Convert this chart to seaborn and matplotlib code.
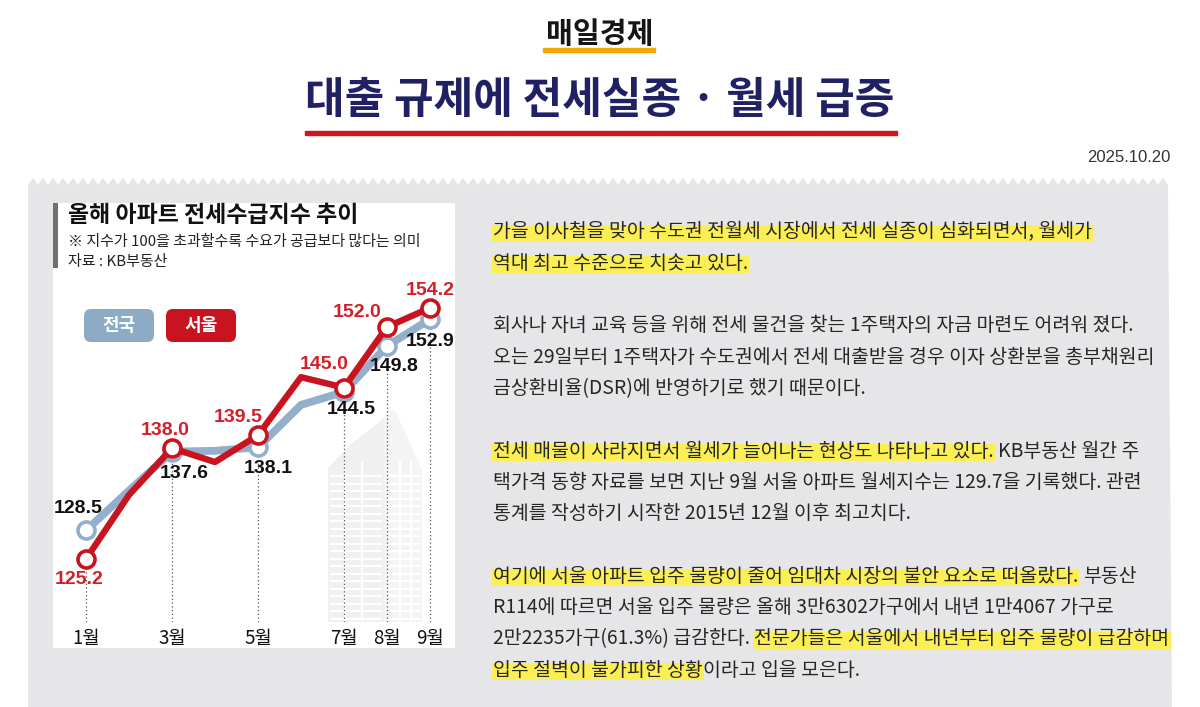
import numpy as np
import pandas as pd
import matplotlib
matplotlib.use('Agg')
import matplotlib.pyplot as plt
import seaborn as sns
from matplotlib.patches import Polygon, Rectangle, FancyBboxPatch

# ---------------- data ----------------
months = [1, 2, 3, 4, 5, 6, 7, 8, 9]
labeled_months = [1, 3, 5, 7, 8, 9]
month_labels = ['1월', '3월', '5월', '7월', '8월', '9월']
national = [128.5, 133.1, 137.6, 137.7, 138.1, 143.0, 144.5, 149.8, 152.9]
seoul = [125.2, 132.6, 138.0, 136.4, 139.5, 146.2, 145.0, 152.0, 154.2]
series_names = ['전국', '서울']

header_logo = '매일경제'
main_title = '대출 규제에 전세실종 · 월세 급증'
date_text = '2025.10.20'
chart_title = '올해 아파트 전세수급지수 추이'
chart_note = '※ 지수가 100을 초과할수록 수요가 공급보다 많다는 의미'
chart_source = '자료 : KB부동산'

body_lines = [
    [('가을 이사철을 맞아 수도권 전월세 시장에서 전세 실종이 심화되면서, 월세가', True)],
    [('역대 최고 수준으로 치솟고 있다.', True)],
    [],
    [('회사나 자녀 교육 등을 위해 전세 물건을 찾는 1주택자의 자금 마련도 어려워 졌다.', False)],
    [('오는 29일부터 1주택자가 수도권에서 전세 대출받을 경우 이자 상환분을 총부채원리', False)],
    [('금상환비율(DSR)에 반영하기로 했기 때문이다.', False)],
    [],
    [('전세 매물이 사라지면서 월세가 늘어나는 현상도 나타나고 있다.', True), (' KB부동산 월간 주', False)],
    [('택가격 동향 자료를 보면 지난 9월 서울 아파트 월세지수는 129.7을 기록했다. 관련', False)],
    [('통계를 작성하기 시작한 2015년 12월 이후 최고치다.', False)],
    [],
    [('여기에 서울 아파트 입주 물량이 줄어 임대차 시장의 불안 요소로 떠올랐다.', True), (' 부동산', False)],
    [('R114에 따르면 서울 입주 물량은 올해 3만6302가구에서 내년 1만4067 가구로', False)],
    [('2만2235가구(61.3%) 급감한다. ', False), ('전문가들은 서울에서 내년부터 입주 물량이 급감하며', True)],
    [('입주 절벽이 불가피한 상황', True), ('이라고 입을 모은다.', False)],
]

# ---------------- style ----------------
sns.set_theme(style='white')
plt.rcParams['font.family'] = ['Noto Sans CJK KR', 'DejaVu Sans']

NAVY = '#1f2163'
RED = '#c8141e'
RED_TXT = '#d41f27'
BLUE = '#93afcb'
BLUE_PILL = '#8eabc6'
PANEL = '#e6e6e8'
HL = '#fcef55'

W, H = 1200, 707
fig = plt.figure(figsize=(W / 100, H / 100), dpi=100)
fig.patch.set_facecolor('white')
bg = fig.add_axes([0, 0, 1, 1])
bg.set_xlim(0, W)
bg.set_ylim(H, 0)
bg.axis('off')
renderer = fig.canvas.get_renderer()

# header
bg.text(600, 34, header_logo, fontsize=21, weight='heavy', color='#151515',
        ha='center', va='center')
bg.add_patch(Rectangle((543, 48), 112, 4, color='#f2a800'))
bg.text(600, 100, main_title, fontsize=31, weight='heavy', color=NAVY,
        ha='center', va='center')
bg.add_patch(Rectangle((305, 131), 592, 4, color='#d3161d'))
bg.text(1170, 157, date_text, fontsize=12, color='#333333', ha='right', va='center',
        family=['Liberation Sans Narrow', 'Liberation Sans', 'DejaVu Sans'])

# grey panel with zigzag top
pts = []
xs = np.arange(28, 1173, 5)
for i, x in enumerate(xs):
    pts.append((x, 185 if i % 2 == 0 else 178))
pts += [(1172, H), (28, H)]
bg.add_patch(Polygon(pts, closed=True, color=PANEL, lw=0))

# white chart box
bg.add_patch(Rectangle((53, 203), 402, 445, color='white', lw=0))
bg.add_patch(Rectangle((53, 203), 5, 65, color='#707070', lw=0))
bg.text(68, 215, chart_title, fontsize=16.5, weight='bold', color='#111111', va='center')
bg.text(68, 242, chart_note, fontsize=10.8, color='#222222', va='center')
bg.text(68, 262, chart_source, fontsize=10.8, color='#222222', va='center')

# faint building illustration
bcol = '#f0f0f0'
bg.add_patch(Polygon([(328, 468), (350, 445), (384, 418), (384, 622), (328, 622)],
                     closed=True, color=bcol, lw=0, zorder=1))
bg.add_patch(Polygon([(384, 418), (388, 408), (396, 412), (422, 470), (422, 622), (384, 622)],
                     closed=True, color='#f4f4f4', lw=0, zorder=1))
for yy in np.arange(476, 620, 7.5):
    bg.plot([331, 381], [yy, yy], color='white', lw=1.6, zorder=1.5)
    bg.plot([388, 419], [yy, yy], color='white', lw=1.6, zorder=1.5)
for xx in [345, 362, 400, 411]:
    bg.plot([xx, xx], [462, 620], color='white', lw=1.6, zorder=1.5)

# legend pills
for (name, col, x0) in [(series_names[0], BLUE_PILL, 84), (series_names[1], RED, 166)]:
    bg.add_patch(FancyBboxPatch((x0, 309), 70, 33,
                                boxstyle='round,pad=0,rounding_size=7',
                                color=col, lw=0, zorder=3))
    bg.text(x0 + 35, 325.5, name, fontsize=13, weight='bold', color='white',
            ha='center', va='center', zorder=4)

# ---------------- body text ----------------
def text_width(s, fs):
    t = bg.text(0, 0, s + '|', fontsize=fs)
    w1 = t.get_window_extent(renderer=renderer).width
    t.remove()
    t = bg.text(0, 0, '|', fontsize=fs)
    w0 = t.get_window_extent(renderer=renderer).width
    t.remove()
    return w1 - w0

fs = 13.5
widest = max(text_width(''.join(s for s, _ in segs), fs) for segs in body_lines if segs)
fs = fs * 676.0 / widest

y0, dy = 232, 31.3
x0 = 493
for i, segs in enumerate(body_lines):
    y = y0 + i * dy
    prefix = ''
    for txt, hl in segs:
        stripped = txt.lstrip(' ')
        lead = len(txt) - len(stripped)
        xt = x0 + text_width(prefix + txt[:lead], fs)
        bg.text(xt, y, stripped, fontsize=fs, color='#262626', va='center', ha='left', zorder=5)
        if hl:
            w = text_width(stripped.rstrip(' '), fs)
            bg.add_patch(Rectangle((xt - 1, y - 7), w + 2, 17, color=HL, lw=0, zorder=4))
        prefix += txt

# ---------------- chart ----------------
df = pd.DataFrame({
    '월': months * 2,
    '지수': national + seoul,
    '지역': [series_names[0]] * len(months) + [series_names[1]] * len(months),
})

ax = fig.add_axes([58 / W, (H - 622) / H, (455 - 58) / W, (622 - 280) / H])
ax.set_facecolor('none')
ax.set_xlim(0.35, 9.58)
ax.set_ylim(117.93, 157.42)

palette = {series_names[0]: BLUE, series_names[1]: RED}
widths = {series_names[0]: 5.6, series_names[1]: 4.6}

# dotted guide lines
low = [min(n, s) for n, s in zip(national, seoul)]
guide_tops = [low[months.index(m)] for m in labeled_months]
ax.vlines(labeled_months, ax.get_ylim()[0], guide_tops, colors='#555555',
          linestyles=(0, (1, 2)), lw=0.9, zorder=1)

z = 2
for name in series_names:
    sub = df[df['지역'] == name]
    sns.lineplot(data=sub, x='월', y='지수', color=palette[name], linewidth=widths[name],
                 ax=ax, legend=False, zorder=z, solid_joinstyle='round',
                 solid_capstyle='round')
    mk = sub[sub['월'].isin(labeled_months)]
    sns.scatterplot(data=mk, x='월', y='지수', s=150, color='white',
                    edgecolor=palette[name], linewidth=2.6, ax=ax, legend=False,
                    zorder=z + 1)
    z += 2

num_font = ['Liberation Sans', 'DejaVu Sans']
off_nat = [(-8, 22), (12, -22), (10, -21), (7, -18), (7, -21), (0, -22)]
off_seo = [(-7, -20), (-7, 18), (-20, 18), (-20, 23), (-30, 14), (0, 17)]
for m, (dxn, dyn), (dxs, dys) in zip(labeled_months, off_nat, off_seo):
    vi = months.index(m)
    ax.annotate(f'{national[vi]:.1f}', (m, national[vi]), xytext=(dxn, dyn),
                textcoords='offset pixels', ha='center', va='center',
                fontsize=14, weight='bold', color='#111111', family=num_font,
                zorder=10, annotation_clip=False)
    ax.annotate(f'{seoul[vi]:.1f}', (m, seoul[vi]), xytext=(dxs, dys),
                textcoords='offset pixels', ha='center', va='center',
                fontsize=14, weight='bold', color=RED_TXT, family=num_font,
                zorder=10, annotation_clip=False)

ax.set_xticks(labeled_months)
ax.set_xticklabels(month_labels, fontsize=13.5, color='#111111')
ax.tick_params(axis='x', length=0, pad=4)
ax.set_yticks([])
ax.set_xlabel('')
ax.set_ylabel('')
for sp in ax.spines.values():
    sp.set_visible(False)

fig.savefig('out.png', dpi=100, facecolor='white')
